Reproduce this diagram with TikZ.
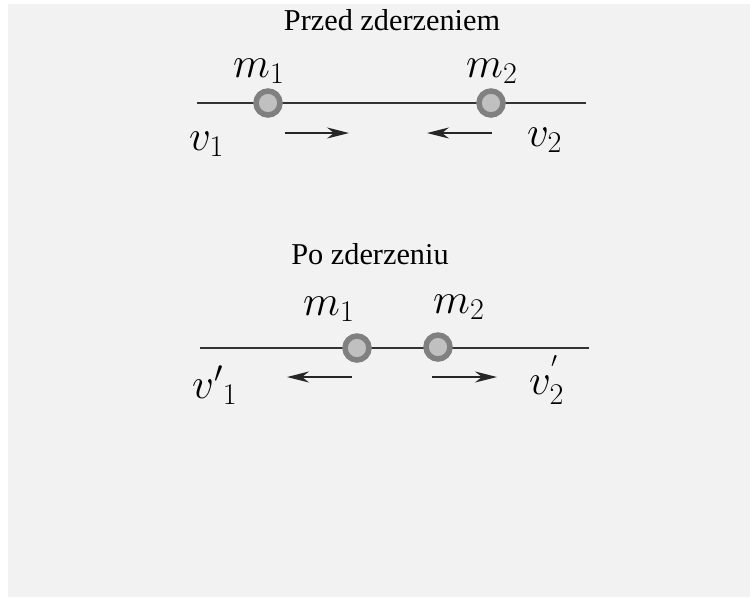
\RequirePackage{fix-cm}
\documentclass[tikz,border=0pt]{standalone}
\usepackage[no-math]{fontspec}
\setmainfont{Liberation Serif}
\usetikzlibrary{arrows.meta}
\definecolor{bg}{HTML}{F2F2F2}
\definecolor{ring}{HTML}{808080}
\definecolor{core}{HTML}{C0C0C0}
\definecolor{axis}{HTML}{333333}
\tikzset{
  mass/.style={circle, draw=ring, fill=core, line width=5.5pt, minimum size=24pt, inner sep=0pt},
  axisline/.style={draw=axis, line width=1.3pt},
  vel/.style={draw=black!85, line width=1.4pt, -{Stealth[length=22pt,width=11pt,inset=7pt]}},
  title/.style={font=\fontsize{30.3}{35}\selectfont, anchor=base, inner sep=0pt},
  sym/.style={font=\fontsize{43}{51}\selectfont, anchor=base west, inner sep=0pt},
}
\begin{document}
\begin{tikzpicture}[x=1pt,y=-1pt]
\useasboundingbox (0,0) rectangle (750,598);
\fill[bg] (8,4) rectangle (750,597);
% before collision
\node[title] (t1) at (392,30) {Przed zderzeniem};
\coordinate (l1a) at (197,103);
\coordinate (l1b) at (586,103);
\draw[axisline] (l1a) -- (l1b);
\node[mass] (a1) at (268,103) {};
\node[mass] (a2) at (491,103) {};
\node[sym] (m1a) at (233,77) {$m_1$};
\node[sym] (m2a) at (466,77) {$m_2$};
\node[sym] (v1) at (189,150) {$v_1$};
\node[sym] (v2) at (527,146) {$v_2$};
\coordinate (p1s) at (285,133);
\coordinate (p1e) at (349,133);
\coordinate (p2s) at (492,133);
\coordinate (p2e) at (427,133);
\draw[vel] (p1s) -- (p1e);
\draw[vel] (p2s) -- (p2e);
% after collision
\node[title] (t2) at (370,264) {Po zderzeniu};
\coordinate (l2a) at (200,348);
\coordinate (l2b) at (589,348);
\draw[axisline] (l2a) -- (l2b);
\node[mass] (b1) at (357,348) {};
\node[mass] (b2) at (438,347) {};
\node[sym] (m1b) at (303,315) {$m_1$};
\node[sym] (m2b) at (433,313) {$m_2$};
\node[sym] (w1) at (192,398) {${v'}_1$};
\node[sym] (w2) at (529,394) {$v_2^{'}$};
\coordinate (q1s) at (352,377);
\coordinate (q1e) at (287,377);
\coordinate (q2s) at (432,377);
\coordinate (q2e) at (497,377);
\draw[vel] (q1s) -- (q1e);
\draw[vel] (q2s) -- (q2e);
\end{tikzpicture}
\end{document}
